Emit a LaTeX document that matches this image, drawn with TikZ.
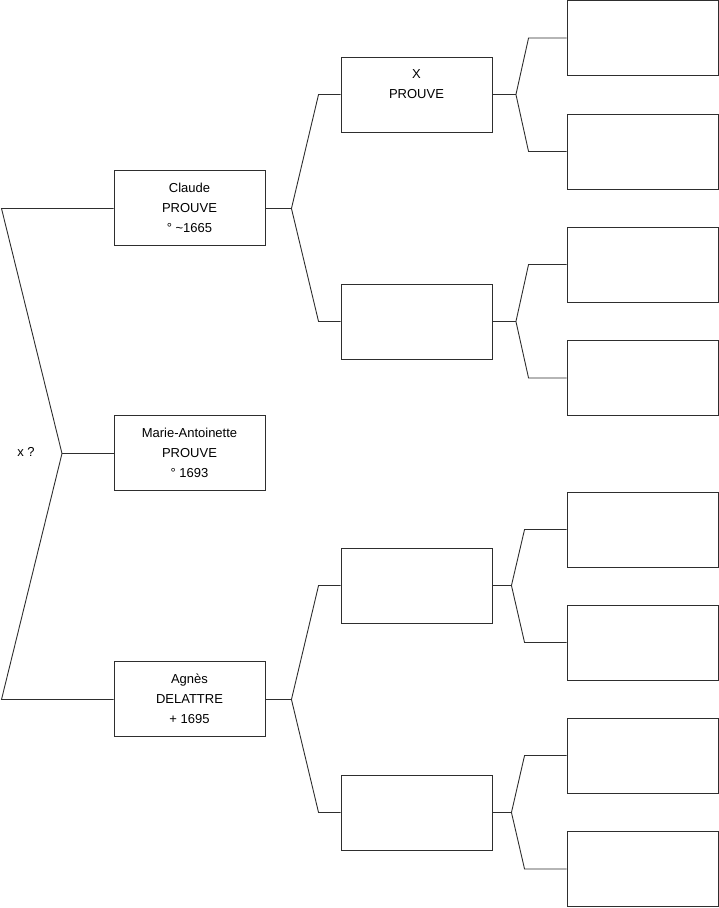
\documentclass[tikz,border=0pt]{standalone}
\usepackage{fontspec}
\setmainfont{Liberation Sans}
\usetikzlibrary{calc}
\definecolor{Ink}{HTML}{2E2E2E}

\tikzset{
  person/.style={draw=Ink, line width=0.9pt, minimum width=151pt, minimum height=75pt,
    inner sep=0pt, align=center, font=\fontsize{13}{20}\selectfont},
  link/.style={draw=Ink, line width=0.9pt},
}

\begin{document}
\begin{tikzpicture}[x=1pt, y=-1pt]
  \useasboundingbox (0,0) rectangle (719,908);

  % generation 1
  \node[person] (claude) at (189.5,207.5) {Claude\\PROUVE\\° \textasciitilde1665};
  \node[person] (marie)  at (189.5,452.5) {Marie-Antoinette\\PROUVE\\° 1693};
  \node[person] (agnes)  at (189.5,698.5) {Agnès\\DELATTRE\\+ 1695};
  \node[font=\fontsize{13}{15}\selectfont] (union) at (26,452) {x ?};

  % generation 2
  \node[person] (pp) at (416.5,94.5)  {X\\PROUVE\\[-6pt]\strut};
  \node[person] (pm) at (416.5,321.5) {};
  \node[person] (mp) at (416.5,585.5) {};
  \node[person] (mm) at (416.5,812.5) {};

  % generation 3
  \foreach \y [count=\i] in {38,151.5,264.5,378,529.5,642.5,755.5,869}
    \node[person] (g\i) at (642.5,\y) {};

  % couple fork
  \coordinate (top)    at (1.5,208.5);
  \coordinate (fork)   at (62,453.5);
  \coordinate (bottom) at (1.5,699.5);
  \draw[link] (claude.west |- top) -- (top) -- (fork) -- (bottom) -- (agnes.west |- bottom);
  \draw[link] (fork) -- (marie.west |- fork);

  % parents
  \foreach \kid/\a/\b in {claude/pp/pm, agnes/mp/mm} {
    \draw[link] ([yshift=-1pt]\kid.east) -- ++(26,0);
    \draw[link] (\a.west) -- ++(-22,0) -- ($([yshift=-1pt]\kid.east)+(26,0)$)
      -- ($(\b.west)+(-22,0)$) -- (\b.west);
  }

  % grandparents
  \foreach \kid/\a/\b/\f/\e in {pp/g1/g2/23.5/38, pm/g3/g4/23.5/38,
                                mp/g5/g6/19/42, mm/g7/g8/19/42} {
    \draw[link] (\kid.east) -- ++(\f,0);
    \draw[link] (\a.west) -- ++(-\e,0) -- ($(\kid.east)+(\f,0)$)
      -- ($(\b.west)+(-\e,0)$) -- (\b.west);
  }
\end{tikzpicture}
\end{document}
